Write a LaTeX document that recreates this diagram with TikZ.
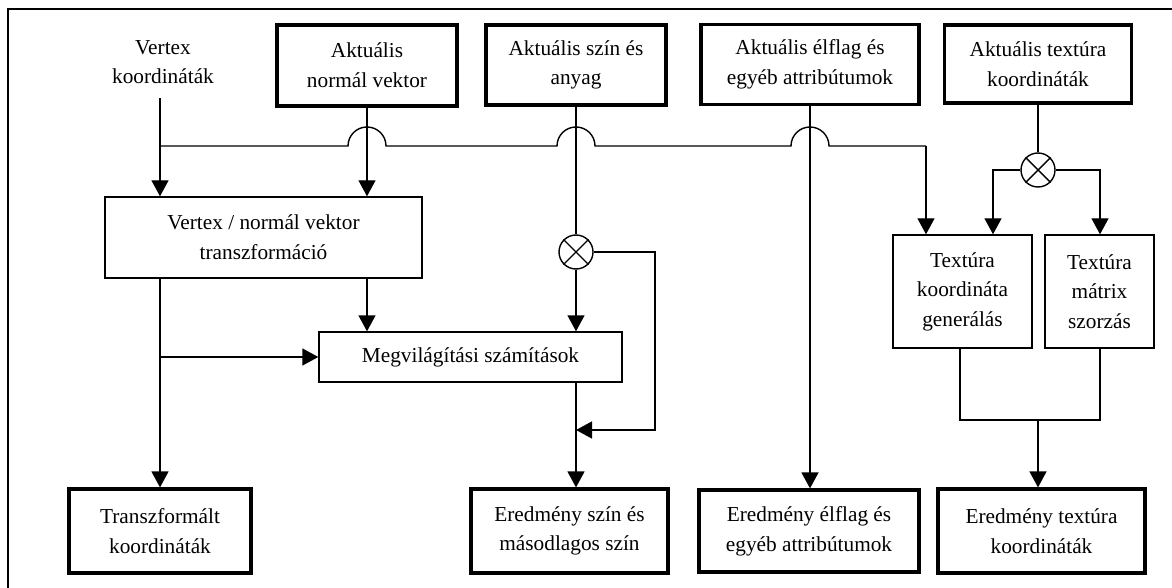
\documentclass[tikz,border=0pt]{standalone}
\usepackage{fontspec}
\setmainfont{Liberation Serif}
\usepackage{tikz}
\usetikzlibrary{arrows.meta, positioning, calc}
\tikzset{
  doboz/.style={rectangle, draw, line width=0.7pt, align=center, inner sep=0pt,
    font=\fontsize{10.65}{14.8}\selectfont},
  vastagdoboz/.style={doboz, line width=1.6pt},
  szorzo/.style={circle, draw, line width=0.7pt, minimum size=17pt, inner sep=0pt},
  nyil/.style={-{Triangle[length=8pt, width=8.5pt]}, line width=0.7pt},
  vonal/.style={draw, line width=0.7pt}
}

\begin{document}
\begin{tikzpicture}[x=0.5pt, y=-0.5pt]
  \useasboundingbox (0,0) rectangle (1172,588);
  % frame
  \draw[line width=0.8pt] (8,588) -- (8,9) -- (1172,9);

  % inputs
  \node[font=\fontsize{10.65}{14.8}\selectfont, align=center] (vlabel) at (163,62) {Vertex\\koordináták};
  \coordinate (vtop) at (160,98);
  \node[vastagdoboz, minimum width=90pt, minimum height=40.5pt] (normal) at (367,65.5) {Aktuális\\normál vektor};
  \node[vastagdoboz, minimum width=90pt, minimum height=40pt] (szin) at (576,65) {Aktuális szín és\\anyag};
  \node[vastagdoboz, minimum width=109pt, minimum height=40pt] (elflag) at (810,64.5) {Aktuális élflag és\\egyéb attribútumok};
  \node[vastagdoboz, minimum width=93.5pt, minimum height=39pt] (texin) at (1038,64) {Aktuális textúra\\koordináták};

  % processing
  \node[doboz, minimum width=158.5pt, minimum height=40.5pt] (vtrans) at (263.5,237.5) {Vertex / normál vektor\\transzformáció};
  \node[doboz, minimum width=151.5pt, minimum height=25pt] (megvil) at (470.5,357) {Megvilágítási számítások};
  \node[doboz, minimum width=69.5pt, minimum height=56.5pt] (texgen) at (962.5,291.5) {Textúra\\koordináta\\generálás};
  \node[doboz, minimum width=54.5pt, minimum height=56.5pt] (texmat) at (1099.5,291.5) {Textúra\\mátrix\\szorzás};
  \node[szorzo] (k1) at (576,252) {};
  \node[szorzo] (k2) at (1038,170) {};
  \draw[vonal] (k1.north east) -- (k1.south west) (k1.north west) -- (k1.south east);
  \draw[vonal] (k2.north east) -- (k2.south west) (k2.north west) -- (k2.south east);

  % outputs
  \node[vastagdoboz, minimum width=91pt, minimum height=42pt] (transz) at (160,531) {Transzformált\\koordináták};
  \node[vastagdoboz, minimum width=98.5pt, minimum height=42pt] (eszin) at (569.5,531) {Eredmény szín és\\másodlagos szín};
  \node[vastagdoboz, minimum width=110pt, minimum height=41pt] (eelflag) at (809,531) {Eredmény élflag és\\egyéb attribútumok};
  \node[vastagdoboz, minimum width=103.5pt, minimum height=42pt] (etex) at (1041.5,531) {Eredmény textúra\\koordináták};

  % bus with hops
  \coordinate (busbal) at (160,146);
  \coordinate (busjobb) at (926,146);
  \draw[vonal] (busbal) -- ($(normal.south |- busbal)+(-19,0)$) arc[start angle=180, end angle=360, radius=19]
    -- ($(szin.south |- busbal)+(-19,0)$) arc[start angle=180, end angle=360, radius=19]
    -- ($(elflag.south |- busbal)+(-19,0)$) arc[start angle=180, end angle=360, radius=19]
    -- (busjobb);
  \draw[nyil] (busjobb) -- (busjobb |- texgen.north);

  % vertical connections
  \draw[nyil] (vtop) -- (vtop |- vtrans.north);
  \draw[nyil] (normal.south) -- (normal.south |- vtrans.north);
  \draw[vonal] (szin.south) -- (k1.north);
  \draw[nyil] (k1.south) -- (k1 |- megvil.north);
  \draw[nyil] (k1.east) -- (655,252) -- (655,430) -- (k1 |- 0,430);
  \draw[nyil] (k1 |- megvil.south) -- (k1 |- eszin.north);
  \draw[nyil] (normal.south |- vtrans.south) -- (normal.south |- megvil.north);
  \draw[nyil] (vtop |- vtrans.south) -- (vtop |- transz.north);
  \draw[nyil] (vtop |- megvil.west) -- (megvil.west);
  \draw[nyil] (elflag.south) -- (elflag.south |- eelflag.north);

  % texture path
  \draw[vonal] (texin.south) -- (k2.north);
  \draw[nyil] (k2.west) -- (993,170) -- (993,170 |- texgen.north);
  \draw[nyil] (k2.east) -- (1100,170) -- (1100,170 |- texmat.north);
  \draw[vonal] (texgen.south -| 960,0) -- (960,420) -- (1100,420) -- (texmat.south -| 1100,0);
  \draw[nyil] (k2 |- 0,420) -- (k2 |- etex.north);
\end{tikzpicture}
\end{document}
